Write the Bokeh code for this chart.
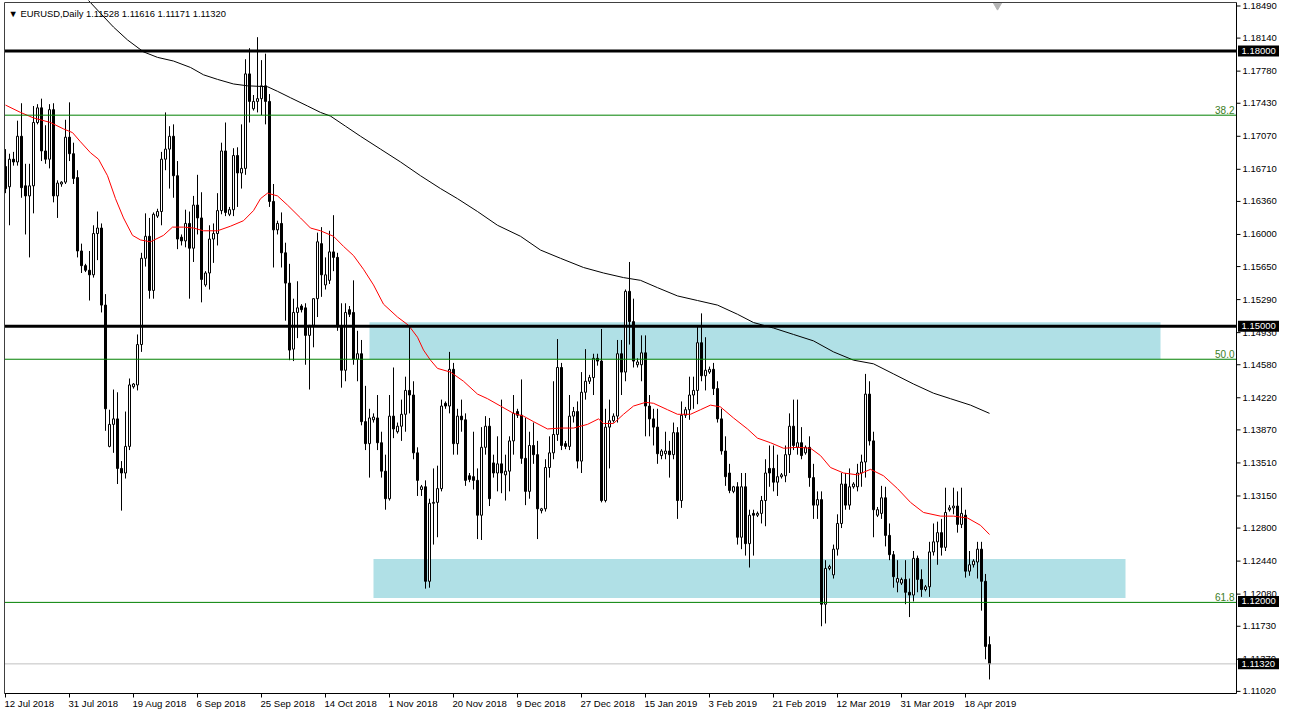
from bokeh.plotting import figure
from bokeh.models import Range1d
from bokeh.core.properties import value
from bokeh.embed import file_html
from bokeh.resources import INLINE

# ---------------- data (EURUSD daily) ----------------
opens = [
1.1674, 1.1652, 1.1682, 1.1679, 1.1707, 1.1653, 1.1642, 1.1653, 1.1722, 1.1738,
1.1691, 1.1682, 1.1736, 1.1642, 1.1655, 1.1657, 1.1706, 1.1688, 1.1662, 1.1582,
1.1566, 1.1561, 1.1556, 1.1601, 1.1607, 1.1523, 1.1369, 1.1393, 1.1399, 1.1345,
1.1340, 1.1369, 1.1434, 1.1436, 1.1480, 1.1574, 1.1598, 1.1539, 1.1620, 1.1625,
1.1682, 1.1693, 1.1707, 1.1664, 1.1597, 1.1593, 1.1612, 1.1585, 1.1632, 1.1618,
1.1545, 1.1558, 1.1595, 1.1601, 1.1626, 1.1691, 1.1622, 1.1627, 1.1686, 1.1667,
1.1672, 1.1775, 1.1737, 1.1745, 1.1748, 1.1762, 1.1745, 1.1636, 1.1605, 1.1612,
1.1580, 1.1547, 1.1475, 1.1515, 1.1522, 1.1520, 1.1490, 1.1501, 1.1530, 1.1590,
1.1545, 1.1550, 1.1581, 1.1575, 1.1500, 1.1452, 1.1518, 1.1515, 1.1464, 1.1470,
1.1396, 1.1372, 1.1398, 1.1400, 1.1373, 1.1342, 1.1312, 1.1402, 1.1385, 1.1391,
1.1404, 1.1430, 1.1425, 1.1362, 1.1322, 1.1325, 1.1222, 1.1307, 1.1308, 1.1323,
1.1416, 1.1413, 1.1453, 1.1372, 1.1402, 1.1398, 1.1337, 1.1336, 1.1332, 1.1294,
1.1368, 1.1391, 1.1351, 1.1340, 1.1350, 1.1338, 1.1342, 1.1375, 1.1407, 1.1403,
1.1356, 1.1320, 1.1370, 1.1360, 1.1299, 1.1301, 1.1346, 1.1362, 1.1382, 1.1455,
1.1372, 1.1369, 1.1402, 1.1407, 1.1353, 1.1428, 1.1440, 1.1444, 1.1465, 1.1462,
1.1310, 1.1390, 1.1397, 1.1402, 1.1470, 1.1450, 1.1538, 1.1505, 1.1458, 1.1458,
1.1471, 1.1413, 1.1399, 1.1390, 1.1359, 1.1361, 1.1364, 1.1360, 1.1384, 1.1310,
1.1403, 1.1409, 1.1425, 1.1430, 1.1482, 1.1446, 1.1450, 1.1453, 1.1432, 1.1399,
1.1364, 1.1340, 1.1320, 1.1325, 1.1270, 1.1325, 1.1263, 1.1296, 1.1294, 1.1296,
1.1310, 1.1345, 1.1345, 1.1330, 1.1336, 1.1337, 1.1360, 1.1391, 1.1368, 1.1373,
1.1362, 1.1368, 1.1335, 1.1305, 1.1311, 1.1197, 1.1236, 1.1229, 1.1257, 1.1285,
1.1328, 1.1305, 1.1325, 1.1325, 1.1340, 1.1352, 1.1426, 1.1375, 1.1294, 1.1296,
1.1313, 1.1272, 1.1251, 1.1221, 1.1220, 1.1224, 1.1210, 1.1207, 1.1247, 1.1224,
1.1213, 1.1216, 1.1254, 1.1265, 1.1275, 1.1259, 1.1300, 1.1302, 1.1304, 1.1284,
1.1294, 1.1233, 1.1240, 1.1243, 1.1257, 1.1222, 1.1153]

highs = [
1.1693, 1.1688, 1.1690, 1.1724, 1.1743, 1.1677, 1.1677, 1.1740, 1.1742, 1.1748,
1.1719, 1.1742, 1.1743, 1.1659, 1.1658, 1.1725, 1.1744, 1.1700, 1.1670, 1.1590,
1.1568, 1.1582, 1.1610, 1.1625, 1.1612, 1.1535, 1.1409, 1.1431, 1.1428, 1.1353,
1.1407, 1.1443, 1.1438, 1.1491, 1.1580, 1.1623, 1.1618, 1.1624, 1.1628, 1.1690,
1.1733, 1.1718, 1.1720, 1.1680, 1.1600, 1.1627, 1.1625, 1.1642, 1.1665, 1.1646,
1.1560, 1.1610, 1.1612, 1.1645, 1.1700, 1.1722, 1.1630, 1.1694, 1.1695, 1.1720,
1.1791, 1.1803, 1.1752, 1.1815, 1.1790, 1.1797, 1.1753, 1.1655, 1.1615, 1.1624,
1.1591, 1.1568, 1.1530, 1.1549, 1.1524, 1.1525, 1.1500, 1.1530, 1.1602, 1.1608,
1.1575, 1.1604, 1.1621, 1.1580, 1.1525, 1.1525, 1.1522, 1.1550, 1.1495, 1.1485,
1.1435, 1.1410, 1.1405, 1.1425, 1.1385, 1.1360, 1.1425, 1.1455, 1.1395, 1.1420,
1.1445, 1.1500, 1.1440, 1.1368, 1.1327, 1.1332, 1.1312, 1.1345, 1.1348, 1.1420,
1.1418, 1.1472, 1.1460, 1.1410, 1.1420, 1.1405, 1.1340, 1.1385, 1.1345, 1.1390,
1.1402, 1.1400, 1.1360, 1.1380, 1.1420, 1.1360, 1.1380, 1.1425, 1.1410, 1.1442,
1.1400, 1.1385, 1.1395, 1.1375, 1.1302, 1.1355, 1.1380, 1.1440, 1.1486, 1.1460,
1.1375, 1.1425, 1.1412, 1.1418, 1.1450, 1.1475, 1.1447, 1.1470, 1.1470, 1.1497,
1.1410, 1.1420, 1.1405, 1.1485, 1.1485, 1.1540, 1.1570, 1.1530, 1.1465, 1.1490,
1.1490, 1.1425, 1.1410, 1.1410, 1.1366, 1.1385, 1.1375, 1.1395, 1.1390, 1.1418,
1.1412, 1.1445, 1.1445, 1.1500, 1.1514, 1.1488, 1.1456, 1.1460, 1.1440, 1.1410,
1.1380, 1.1350, 1.1326, 1.1330, 1.1340, 1.1340, 1.1300, 1.1300, 1.1298, 1.1315,
1.1355, 1.1370, 1.1370, 1.1360, 1.1340, 1.1370, 1.1405, 1.1420, 1.1420, 1.1390,
1.1370, 1.1380, 1.1350, 1.1320, 1.1320, 1.1245, 1.1240, 1.1262, 1.1295, 1.1340,
1.1340, 1.1345, 1.1330, 1.1350, 1.1360, 1.1448, 1.1440, 1.1385, 1.1303, 1.1326,
1.1325, 1.1285, 1.1255, 1.1245, 1.1226, 1.1245, 1.1225, 1.1255, 1.1250, 1.1235,
1.1218, 1.1265, 1.1285, 1.1287, 1.1290, 1.1324, 1.1305, 1.1324, 1.1320, 1.1324,
1.1300, 1.1255, 1.1246, 1.1265, 1.1265, 1.1230, 1.1162]

lows = [
1.1645, 1.1610, 1.1675, 1.1675, 1.1640, 1.1600, 1.1575, 1.1623, 1.1720, 1.1680,
1.1677, 1.1672, 1.1635, 1.1618, 1.1652, 1.1655, 1.1680, 1.1655, 1.1575, 1.1558,
1.1559, 1.1528, 1.1553, 1.1572, 1.1515, 1.1386, 1.1368, 1.1362, 1.1328, 1.1299,
1.1334, 1.1365, 1.1432, 1.1430, 1.1472, 1.1565, 1.1530, 1.1530, 1.1618, 1.1610,
1.1670, 1.1650, 1.1640, 1.1584, 1.1588, 1.1586, 1.1530, 1.1570, 1.1600, 1.1526,
1.1543, 1.1540, 1.1569, 1.1588, 1.1622, 1.1620, 1.1620, 1.1620, 1.1630, 1.1650,
1.1665, 1.1722, 1.1735, 1.1733, 1.1730, 1.1720, 1.1630, 1.1564, 1.1600, 1.1564,
1.1506, 1.1463, 1.1462, 1.1487, 1.1515, 1.1458, 1.1431, 1.1477, 1.1510, 1.1532,
1.1540, 1.1546, 1.1560, 1.1495, 1.1433, 1.1440, 1.1510, 1.1458, 1.1440, 1.1392,
1.1365, 1.1335, 1.1395, 1.1365, 1.1335, 1.1300, 1.1310, 1.1378, 1.1383, 1.1375,
1.1385, 1.1405, 1.1355, 1.1315, 1.1315, 1.1214, 1.1215, 1.1262, 1.1270, 1.1320,
1.1410, 1.1405, 1.1360, 1.1360, 1.1385, 1.1326, 1.1330, 1.1322, 1.1268, 1.1267,
1.1360, 1.1304, 1.1335, 1.1320, 1.1318, 1.1310, 1.1320, 1.1360, 1.1400, 1.1350,
1.1305, 1.1312, 1.1350, 1.1268, 1.1296, 1.1298, 1.1335, 1.1355, 1.1375, 1.1365,
1.1366, 1.1365, 1.1395, 1.1345, 1.1340, 1.1420, 1.1437, 1.1425, 1.1457, 1.1308,
1.1308, 1.1345, 1.1395, 1.1395, 1.1425, 1.1440, 1.1480, 1.1455, 1.1455, 1.1440,
1.1380, 1.1380, 1.1370, 1.1350, 1.1355, 1.1355, 1.1335, 1.1355, 1.1290, 1.1302,
1.1400, 1.1398, 1.1410, 1.1415, 1.1440, 1.1430, 1.1448, 1.1425, 1.1395, 1.1360,
1.1326, 1.1318, 1.1318, 1.1262, 1.1257, 1.1250, 1.1237, 1.1250, 1.1292, 1.1285,
1.1282, 1.1325, 1.1320, 1.1315, 1.1334, 1.1330, 1.1340, 1.1365, 1.1360, 1.1355,
1.1360, 1.1325, 1.1290, 1.1290, 1.1173, 1.1176, 1.1234, 1.1225, 1.1250, 1.1280,
1.1300, 1.1300, 1.1323, 1.1320, 1.1325, 1.1335, 1.1370, 1.1270, 1.1292, 1.1290,
1.1260, 1.1245, 1.1215, 1.1210, 1.1218, 1.1197, 1.1183, 1.1200, 1.1210, 1.1205,
1.1211, 1.1205, 1.1250, 1.1240, 1.1250, 1.1255, 1.1298, 1.1295, 1.1275, 1.1280,
1.1226, 1.1228, 1.1237, 1.1225, 1.1190, 1.1137, 1.1115]

closes = [
1.1650, 1.1682, 1.1679, 1.1707, 1.1651, 1.1642, 1.1653, 1.1722, 1.1738, 1.1691,
1.1682, 1.1736, 1.1642, 1.1656, 1.1657, 1.1706, 1.1688, 1.1661, 1.1582, 1.1566,
1.1561, 1.1556, 1.1601, 1.1607, 1.1523, 1.1410, 1.1393, 1.1399, 1.1345, 1.1340,
1.1369, 1.1436, 1.1437, 1.1480, 1.1574, 1.1598, 1.1539, 1.1622, 1.1625, 1.1682,
1.1693, 1.1707, 1.1664, 1.1595, 1.1593, 1.1612, 1.1585, 1.1632, 1.1618, 1.1551,
1.1558, 1.1595, 1.1601, 1.1626, 1.1691, 1.1624, 1.1627, 1.1686, 1.1667, 1.1672,
1.1775, 1.1745, 1.1745, 1.1748, 1.1762, 1.1745, 1.1636, 1.1605, 1.1612, 1.1580,
1.1547, 1.1474, 1.1515, 1.1520, 1.1518, 1.1490, 1.1501, 1.1530, 1.1592, 1.1556,
1.1556, 1.1581, 1.1575, 1.1500, 1.1452, 1.1515, 1.1513, 1.1464, 1.1470, 1.1396,
1.1372, 1.1400, 1.1401, 1.1373, 1.1342, 1.1312, 1.1402, 1.1388, 1.1391, 1.1404,
1.1430, 1.1425, 1.1362, 1.1332, 1.1325, 1.1222, 1.1307, 1.1308, 1.1323, 1.1413,
1.1413, 1.1453, 1.1372, 1.1402, 1.1398, 1.1332, 1.1333, 1.1332, 1.1294, 1.1368,
1.1391, 1.1312, 1.1340, 1.1350, 1.1340, 1.1342, 1.1375, 1.1405, 1.1403, 1.1356,
1.1320, 1.1370, 1.1360, 1.1301, 1.1301, 1.1346, 1.1362, 1.1382, 1.1455, 1.1370,
1.1369, 1.1402, 1.1407, 1.1353, 1.1428, 1.1440, 1.1444, 1.1465, 1.1462, 1.1310,
1.1390, 1.1397, 1.1402, 1.1470, 1.1450, 1.1538, 1.1505, 1.1462, 1.1461, 1.1471,
1.1413, 1.1399, 1.1390, 1.1361, 1.1364, 1.1364, 1.1360, 1.1384, 1.1310, 1.1403,
1.1409, 1.1425, 1.1430, 1.1482, 1.1446, 1.1452, 1.1453, 1.1432, 1.1399, 1.1364,
1.1336, 1.1321, 1.1325, 1.1270, 1.1325, 1.1263, 1.1294, 1.1294, 1.1296, 1.1310,
1.1340, 1.1340, 1.1330, 1.1336, 1.1338, 1.1360, 1.1391, 1.1370, 1.1373, 1.1359,
1.1368, 1.1335, 1.1305, 1.1311, 1.1197, 1.1236, 1.1238, 1.1257, 1.1285, 1.1328,
1.1305, 1.1325, 1.1328, 1.1340, 1.1352, 1.1426, 1.1375, 1.1300, 1.1300, 1.1313,
1.1272, 1.1251, 1.1227, 1.1225, 1.1224, 1.1210, 1.1207, 1.1247, 1.1224, 1.1213,
1.1216, 1.1254, 1.1265, 1.1275, 1.1259, 1.1297, 1.1302, 1.1304, 1.1284, 1.1296,
1.1233, 1.1240, 1.1244, 1.1257, 1.1222, 1.1151, 1.1132]

date_tick_bars = [0, 16, 32, 48, 64, 80, 96, 112, 128, 144, 160, 176, 192, 208, 224, 240]
date_tick_labels = ["12 Jul 2018", "31 Jul 2018", "19 Aug 2018", "6 Sep 2018", "25 Sep 2018",
                    "14 Oct 2018", "1 Nov 2018", "20 Nov 2018", "9 Dec 2018", "27 Dec 2018",
                    "15 Jan 2019", "3 Feb 2019", "21 Feb 2019", "12 Mar 2019", "31 Mar 2019",
                    "18 Apr 2019"]

price_ticks = [1.18490, 1.18140, 1.17780, 1.17430, 1.17070, 1.16710, 1.16360, 1.16000,
               1.15650, 1.15290, 1.14930, 1.14580, 1.14220, 1.13870, 1.13510, 1.13150,
               1.12800, 1.12440, 1.12080, 1.11730, 1.11370, 1.11020]

# moving averages (bar position, value)
red_ma_bar = [0, 3.75, 7, 11.25, 14.5, 16.75, 18.75, 21.25, 23.25, 25.5, 27.5, 29.5, 31.75, 33.75,
              36.25, 39.5, 41.75, 44.5, 47, 49.5, 53, 56.25, 59.5, 62, 63.75, 65.5, 68, 70.5,
              73.75, 76.25, 78.75, 82, 84.5, 87, 89.5, 92, 94.5, 98, 100.75, 103, 104.5, 106.25,
              108, 111.25, 114.5, 118, 120.5, 123.75, 127, 129.5, 132, 135.5, 138.75, 142, 145.5,
              148.25, 149.5, 152, 154.5, 157, 160, 162, 165.5, 168, 171.25, 173.75, 176.25,
              178.75, 182, 185.5, 188, 191.25, 194.5, 198, 201.25, 203.75, 206.25, 209.5, 213,
              216.25, 219.5, 223, 226.25, 229.5, 233.75, 237, 240.5, 243.75, 246]
red_ma_val = [1.1741, 1.1733, 1.1727, 1.1722, 1.1715, 1.1711, 1.1701, 1.1689, 1.1682, 1.1664,
              1.1639, 1.1618, 1.1599, 1.1594, 1.1592, 1.1599, 1.1608, 1.1608, 1.1607, 1.1604,
              1.1604, 1.1609, 1.1615, 1.1626, 1.1639, 1.1645, 1.1642, 1.1632, 1.1618, 1.1607,
              1.1604, 1.1598, 1.1587, 1.1577, 1.1562, 1.1545, 1.1524, 1.1510, 1.1501, 1.1488,
              1.1474, 1.1463, 1.1454, 1.1450, 1.1440, 1.1426, 1.1421, 1.1413, 1.1405, 1.1402,
              1.1396, 1.1388, 1.1389, 1.1389, 1.1393, 1.1399, 1.1394, 1.1394, 1.1404, 1.1413,
              1.1417, 1.1416, 1.1409, 1.1404, 1.1404, 1.1409, 1.1414, 1.1412, 1.1400, 1.1388,
              1.1378, 1.1373, 1.1367, 1.1368, 1.1367, 1.1359, 1.1346, 1.1340, 1.1338, 1.1344,
              1.1337, 1.1323, 1.1308, 1.1297, 1.1293, 1.1293, 1.1291, 1.1283, 1.1273]

black_ma_bar = [18.75, 20.75, 23.75, 27, 30.5, 34.5, 38, 42, 46.25, 49.5, 53, 57, 60.5, 65.5, 68,
                71.25, 75.5, 78.75, 81.25, 85, 88.75, 93.75, 98.75, 103.75, 108.75, 113, 118,
                123, 128.75, 133.75, 138.75, 144.5, 149.5, 154.5, 158.75, 163, 168, 173, 178,
                183, 187, 192, 197, 202, 207, 212, 217, 222, 227, 232, 236.25, 241.25, 246]
black_ma_val = [1.1868, 1.1855, 1.1841, 1.1826, 1.1812, 1.1799, 1.1793, 1.1789, 1.1782, 1.1774,
                1.1769, 1.1764, 1.1762, 1.1761, 1.1756, 1.1749, 1.1740, 1.1733, 1.1729, 1.1718,
                1.1707, 1.1693, 1.1679, 1.1664, 1.1650, 1.1639, 1.1625, 1.1610, 1.1598, 1.1583,
                1.1574, 1.1564, 1.1558, 1.1553, 1.1550, 1.1542, 1.1533, 1.1528, 1.1523, 1.1513,
                1.1504, 1.1498, 1.1491, 1.1484, 1.1472, 1.1463, 1.1459, 1.1448, 1.1437, 1.1427,
                1.1421, 1.1414, 1.1405]

black_levels = [1.18000, 1.15000]
fibo_levels = [1.1730, 1.1464, 1.1199]
fibo_labels = ["38.2", "50.0", "61.8"]
marked_prices = [1.18000, 1.15000, 1.12000, 1.11320]
current_price = 1.11320

zone_left = [91, 92]
zone_right = [288.75, 280]
zone_bottom = [1.14639, 1.12038]
zone_top = [1.15043, 1.12464]

header = "\u25BC EURUSD,Daily  1.11528 1.11616 1.11171 1.11320"

n = len(closes)
assert len(opens) == n and len(highs) == n and len(lows) == n
assert len(red_ma_bar) == len(red_ma_val) and len(black_ma_bar) == len(black_ma_val)

# ---------------- geometry of the canvas ----------------
W, H = 1280, 709
FONT = "Liberation Sans"
PXB = 4.0                               # pixels per bar (as in the terminal)
CH_X0, CH_X1 = 4, 1236                  # chart area in canvas pixels
CH_Y0, CH_Y1 = 2, 693
BAR_L = -0.25
BAR_R = BAR_L + (CH_X1 - CH_X0) / PXB
Y_TOP, Y_BOT = 1.18528, 1.10997        # chart area in price units
PXP = (CH_Y1 - CH_Y0) / (Y_TOP - Y_BOT)
x_start = BAR_L - CH_X0 / PXB
x_end = x_start + W / PXB
y_end = Y_TOP + CH_Y0 / PXP
y_start = y_end - H / PXP
dx = 1.0 / PXB   # one pixel in bar units
dy = 1.0 / PXP   # one pixel in price units

p = figure(frame_width=W, frame_height=H, output_backend="svg", toolbar_location=None,
           x_range=Range1d(x_start, x_end), y_range=Range1d(y_start, y_end),
           x_axis_location=None, y_axis_location=None,
           min_border_left=0, min_border_right=0, min_border_top=0, min_border_bottom=0)
p.background_fill_color = "white"
p.border_fill_color = "white"
p.outline_line_color = None
p.xgrid.visible = False
p.ygrid.visible = False

# zones (background)
p.quad(left=zone_left, right=zone_right, bottom=zone_bottom, top=zone_top,
       fill_color="#b0e0e6", line_color=None)

# candles
xs = list(range(n))
up_x = [i for i in xs if closes[i] >= opens[i]]
dn_x = [i for i in xs if closes[i] < opens[i]]
p.segment(x0=xs, y0=highs, x1=xs, y1=lows, line_color="black", line_width=1)
p.vbar(x=up_x, width=0.5, top=[closes[i] for i in up_x], bottom=[opens[i] for i in up_x],
       fill_color="white", line_color="black", line_width=1)
p.vbar(x=dn_x, width=0.5, top=[opens[i] for i in dn_x], bottom=[closes[i] for i in dn_x],
       fill_color="black", line_color="black", line_width=1)

# moving averages
p.line(red_ma_bar, red_ma_val, line_color="red", line_width=1)
p.line(black_ma_bar, black_ma_val, line_color="black", line_width=1)

# horizontal lines (only across the chart area)
p.segment(x0=[BAR_L] * 3, x1=[BAR_R] * 3, y0=fibo_levels, y1=fibo_levels,
          line_color="#008000", line_width=1)
p.segment(x0=[BAR_L] * 2, x1=[BAR_R] * 2, y0=black_levels, y1=black_levels,
          line_color="black", line_width=3)
p.segment(x0=[BAR_L], x1=[BAR_R], y0=[current_price], y1=[current_price],
          line_color="#c0c0c0", line_width=1)

p.text(x=[BAR_R - 2 * dx] * 3, y=[lv + 1 * dy for lv in fibo_levels], text=fibo_labels,
       text_align="right", text_baseline="bottom", text_color="#3c7d1e",
       text_font=value(FONT), text_font_size=value("10px"))

# header
p.text(x=[BAR_L + 4 * dx], y=[Y_TOP - 5 * dy], text=[header], text_align="left",
       text_baseline="top", text_color="black", text_font=value(FONT),
       text_font_size=value("9.4px"))

# chart shift marker
p.scatter(x=[n + 1.0], y=[Y_TOP - 3 * dy], marker="inverted_triangle", size=8,
          fill_color="#b4b4b4", line_color="#b4b4b4")

# chart frame and axis lines
p.segment(x0=[BAR_L], x1=[BAR_L], y0=[Y_BOT], y1=[Y_TOP],
          line_color="#404040", line_width=1)
p.segment(x0=[BAR_L], x1=[BAR_R], y0=[Y_TOP], y1=[Y_TOP],
          line_color="#404040", line_width=1)
p.segment(x0=[BAR_R], x1=[BAR_R], y0=[Y_BOT], y1=[Y_TOP], line_color="black", line_width=1)
p.segment(x0=[BAR_L], x1=[BAR_R], y0=[Y_BOT], y1=[Y_BOT], line_color="black", line_width=1)

# right price scale
p.segment(x0=[BAR_R] * len(price_ticks), x1=[BAR_R + 4 * dx] * len(price_ticks),
          y0=price_ticks, y1=price_ticks, line_color="black", line_width=1)
p.text(x=[BAR_R + 6 * dx] * len(price_ticks), y=price_ticks,
       text=["%.5f" % t for t in price_ticks], text_align="left", text_baseline="middle",
       text_color="black", text_font=value(FONT), text_font_size=value("9.5px"))

# bottom date scale
p.segment(x0=date_tick_bars, x1=date_tick_bars, y0=[Y_BOT] * len(date_tick_bars),
          y1=[Y_BOT - 4 * dy] * len(date_tick_bars), line_color="black", line_width=1)
p.text(x=[b - 1 * dx for b in date_tick_bars], y=[Y_BOT - 10 * dy] * len(date_tick_bars),
       text=date_tick_labels, text_align="left", text_baseline="middle", text_color="black",
       text_font=value(FONT), text_font_size=value("9.6px"))

# price boxes on the scale
p.rect(x=[BAR_R + 22 * dx] * len(marked_prices), y=marked_prices, width=41, height=11,
       width_units="screen", height_units="screen", fill_color="black", line_color=None)
p.text(x=[BAR_R + 5 * dx] * len(marked_prices), y=marked_prices,
       text=["%.5f" % pr for pr in marked_prices], text_align="left", text_baseline="middle",
       text_color="white", text_font=value(FONT), text_font_size=value("9.5px"))

open("out.html", "w").write(file_html(p, INLINE))
